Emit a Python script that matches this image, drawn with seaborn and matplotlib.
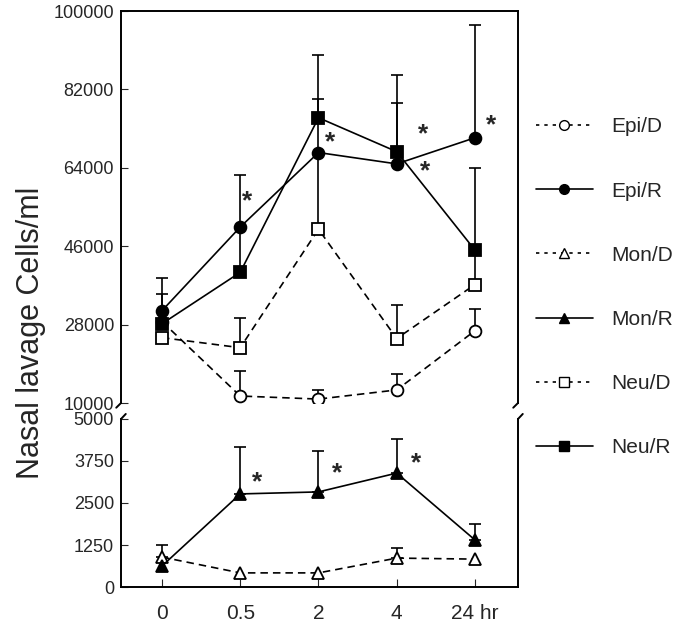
import numpy as np
import pandas as pd
import matplotlib
matplotlib.use('Agg')
import matplotlib.pyplot as plt
import seaborn as sns
from matplotlib.lines import Line2D

# time points (categorical positions on x)
times = ['0', '0.5', '2', '4', '24 hr']

# cells/ml, means and upper error (SEM)
epi_d = [28700, 11600, 10900, 13000, 26600]
epi_d_err = [0, 5800, 2100, 3700, 4900]
epi_r = [31200, 50400, 67500, 64900, 70900]
epi_r_err = [7400, 12000, 12200, 13900, 25900]
neu_d = [25000, 22700, 49900, 24800, 37200]
neu_d_err = [0, 6900, 17600, 7800, 7900]
neu_r = [28200, 40000, 75500, 67700, 45100]
neu_r_err = [6900, 10400, 14500, 17500, 18900]
mon_d = [890, 420, 420, 860, 830]
mon_d_err = [360, 0, 0, 300, 0]
mon_r = [625, 2770, 2830, 3390, 1400]
mon_r_err = [0, 1400, 1220, 1010, 470]

top_ticks = [10000, 28000, 46000, 64000, 82000, 100000]
bottom_ticks = [0, 1250, 2500, 3750, 5000]

# significance stars (x index, y value)
stars_top = [(1.09, 56200), (2.15, 69800), (3.34, 71800), (3.36, 63300), (4.2, 73700)]
stars_bottom = [(1.21, 3125), (2.24, 3390), (3.25, 3690)]

sns.set_style('ticks')
plt.rcParams['font.family'] = ['Liberation Sans', 'DejaVu Sans']

fig = plt.figure(figsize=(6.91, 6.28), dpi=100)
left, right = 121 / 691, 518 / 691
ax_top = fig.add_axes([left, 1 - 403 / 628, right - left, (403 - 11) / 628])
ax_bot = fig.add_axes([left, 1 - 587 / 628, right - left, (587 - 419) / 628])

xpos = np.arange(len(times))
dash = (0, (4.5, 3))


def draw(ax, vals, err, marker, filled, dashed):
    sub = pd.DataFrame({'t': xpos, 'v': vals})
    mask = np.array(err) > 0
    ax.errorbar(xpos[mask], np.array(vals)[mask],
                yerr=[np.zeros(mask.sum()), np.array(err)[mask]],
                fmt='none', ecolor='black', elinewidth=1.2, capsize=4,
                capthick=1.2, zorder=1)
    sns.lineplot(data=sub, x='t', y='v', ax=ax, color='black',
                 marker=marker, markersize=8.5 if marker != 's' else 9,
                 markerfacecolor='black' if filled else 'white',
                 markeredgecolor='black', markeredgewidth=1.3,
                 linestyle=dash if dashed else '-', linewidth=1.2, zorder=2)


draw(ax_top, epi_d, epi_d_err, 'o', False, True)
draw(ax_top, neu_d, neu_d_err, 's', False, True)
draw(ax_top, epi_r, epi_r_err, 'o', True, False)
draw(ax_top, neu_r, neu_r_err, 's', True, False)
draw(ax_bot, mon_d, mon_d_err, '^', False, True)
draw(ax_bot, mon_r, mon_r_err, '^', True, False)

for x, y in stars_top:
    ax_top.text(x, y, '*', fontsize=19, ha='center', va='center', fontweight='bold')
for x, y in stars_bottom:
    ax_bot.text(x, y, '*', fontsize=19, ha='center', va='center', fontweight='bold')

xlim = (-0.524, 4.55)
for ax in (ax_top, ax_bot):
    ax.set_xlim(*xlim)
    ax.set_xlabel('')
    ax.set_ylabel('')
    for s in ax.spines.values():
        s.set_linewidth(1.4)
        s.set_color('black')
    ax.tick_params(axis='y', direction='in', length=5, labelsize=13, pad=5)

ax_top.set_ylim(10000, 100000)
ax_top.set_yticks(top_ticks)
ax_top.set_yticklabels([str(t) for t in top_ticks])
ax_top.spines['bottom'].set_visible(False)
ax_top.tick_params(axis='x', bottom=False, labelbottom=False)

ax_bot.set_ylim(0, 5000)
ax_bot.set_yticks(bottom_ticks)
ax_bot.set_yticklabels([str(t) for t in bottom_ticks])
ax_bot.spines['top'].set_visible(False)
ax_bot.set_xticks(xpos)
ax_bot.set_xticklabels(times)
ax_bot.tick_params(axis='x', direction='in', length=6, labelsize=15, pad=12)

# break marks
kw = dict(color='black', lw=1.4, clip_on=False)
for xa in (0, 1):
    ax_top.plot([xa, xa - 0.012], [0, -0.012], transform=ax_top.transAxes, **kw)
    ax_bot.plot([xa, xa + 0.012], [1, 1.03], transform=ax_bot.transAxes, **kw)

fig.text(31 / 691, 1 - 333 / 628, 'Nasal lavage Cells/ml', rotation=90,
         ha='center', va='center', fontsize=22)

handles = [
    Line2D([], [], color='black', ls=(0, (2, 3)), lw=1.2, marker='o', mfc='white', mec='black', ms=7),
    Line2D([], [], color='black', ls='-', lw=1.2, marker='o', mfc='black', mec='black', ms=7),
    Line2D([], [], color='black', ls=(0, (2, 3)), lw=1.2, marker='^', mfc='white', mec='black', ms=7),
    Line2D([], [], color='black', ls='-', lw=1.2, marker='^', mfc='black', mec='black', ms=7),
    Line2D([], [], color='black', ls=(0, (2, 3)), lw=1.2, marker='s', mfc='white', mec='black', ms=7),
    Line2D([], [], color='black', ls='-', lw=1.2, marker='s', mfc='black', mec='black', ms=7),
]
labels = ['Epi/D', 'Epi/R', 'Mon/D', 'Mon/R', 'Neu/D', 'Neu/R']
fig.legend(handles, labels, loc='upper left', bbox_to_anchor=(528 / 691, 1 - 109 / 628),
           frameon=False, fontsize=15, labelspacing=2.17, handlelength=2.7,
           handletextpad=0.9, borderaxespad=0)

fig.savefig('out.png', dpi=100)
